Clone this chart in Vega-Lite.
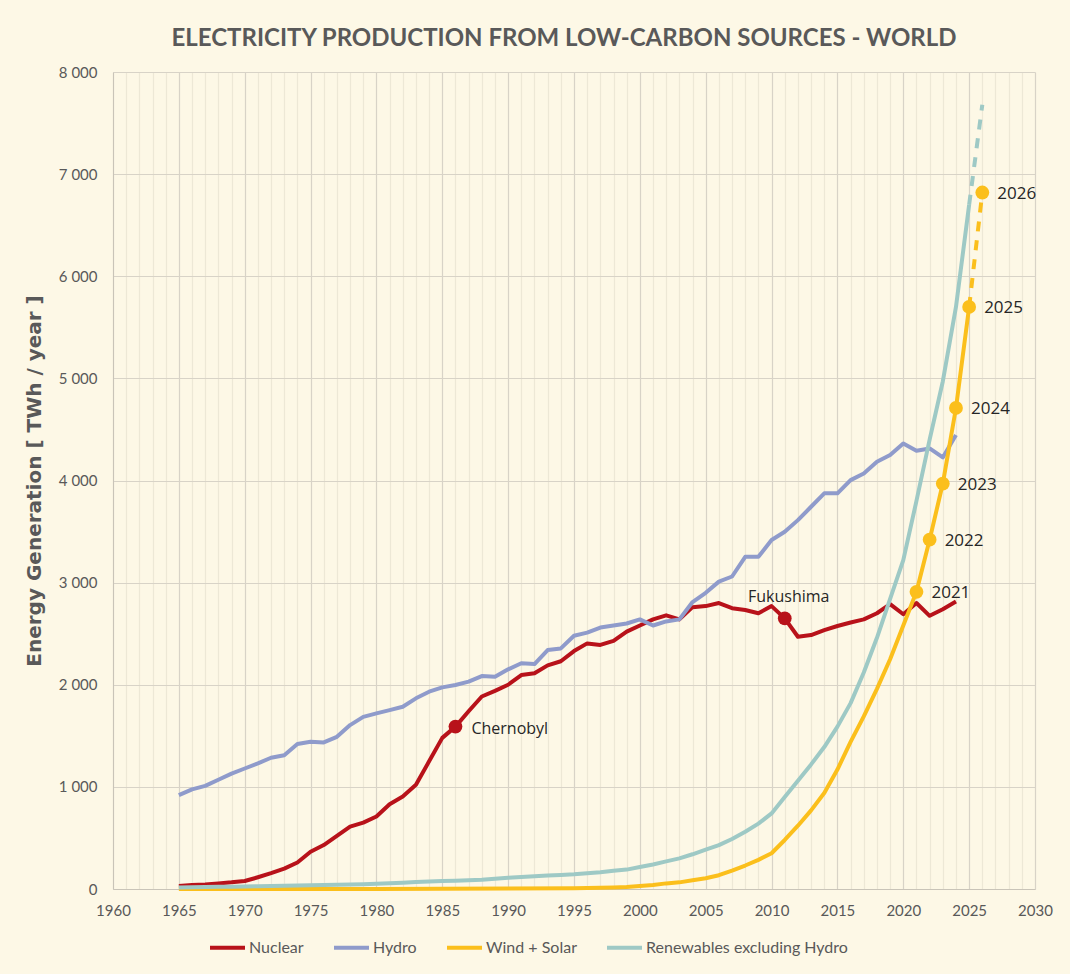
{
  "$schema": "https://vega.github.io/schema/vega-lite/v6.json",
  "width": 922,
  "height": 817,
  "autosize": {"type": "none"},
  "padding": {"left": 113, "top": 72, "right": 35, "bottom": 85},
  "background": "#fdf8e6",
  "config": {
    "view": {"stroke": null},
    "font": "Lato"
  },
  "title": {
    "text": "ELECTRICITY PRODUCTION FROM LOW-CARBON SOURCES - WORLD",
    "font": "Lato",
    "fontSize": 24,
    "fontWeight": "bold",
    "color": "#595959",
    "offset": 14,
    "dx": -10
  },
  "datasets": {
    "series": [
      {"source": "Nuclear", "year": 1965, "value": 30},
      {"source": "Nuclear", "year": 1966, "value": 38},
      {"source": "Nuclear", "year": 1967, "value": 45},
      {"source": "Nuclear", "year": 1968, "value": 55},
      {"source": "Nuclear", "year": 1969, "value": 65},
      {"source": "Nuclear", "year": 1970, "value": 78},
      {"source": "Nuclear", "year": 1971, "value": 115},
      {"source": "Nuclear", "year": 1972, "value": 155},
      {"source": "Nuclear", "year": 1973, "value": 200},
      {"source": "Nuclear", "year": 1974, "value": 260},
      {"source": "Nuclear", "year": 1975, "value": 365},
      {"source": "Nuclear", "year": 1976, "value": 430},
      {"source": "Nuclear", "year": 1977, "value": 520},
      {"source": "Nuclear", "year": 1978, "value": 610},
      {"source": "Nuclear", "year": 1979, "value": 650},
      {"source": "Nuclear", "year": 1980, "value": 710},
      {"source": "Nuclear", "year": 1981, "value": 830},
      {"source": "Nuclear", "year": 1982, "value": 905},
      {"source": "Nuclear", "year": 1983, "value": 1020},
      {"source": "Nuclear", "year": 1984, "value": 1250},
      {"source": "Nuclear", "year": 1985, "value": 1480},
      {"source": "Nuclear", "year": 1986, "value": 1590},
      {"source": "Nuclear", "year": 1987, "value": 1740},
      {"source": "Nuclear", "year": 1988, "value": 1885},
      {"source": "Nuclear", "year": 1989, "value": 1940},
      {"source": "Nuclear", "year": 1990, "value": 2000},
      {"source": "Nuclear", "year": 1991, "value": 2095},
      {"source": "Nuclear", "year": 1992, "value": 2112},
      {"source": "Nuclear", "year": 1993, "value": 2190},
      {"source": "Nuclear", "year": 1994, "value": 2230},
      {"source": "Nuclear", "year": 1995, "value": 2330},
      {"source": "Nuclear", "year": 1996, "value": 2405},
      {"source": "Nuclear", "year": 1997, "value": 2390},
      {"source": "Nuclear", "year": 1998, "value": 2430},
      {"source": "Nuclear", "year": 1999, "value": 2520},
      {"source": "Nuclear", "year": 2000, "value": 2580},
      {"source": "Nuclear", "year": 2001, "value": 2640},
      {"source": "Nuclear", "year": 2002, "value": 2680},
      {"source": "Nuclear", "year": 2003, "value": 2640},
      {"source": "Nuclear", "year": 2004, "value": 2760},
      {"source": "Nuclear", "year": 2005, "value": 2770},
      {"source": "Nuclear", "year": 2006, "value": 2800},
      {"source": "Nuclear", "year": 2007, "value": 2750},
      {"source": "Nuclear", "year": 2008, "value": 2732},
      {"source": "Nuclear", "year": 2009, "value": 2700},
      {"source": "Nuclear", "year": 2010, "value": 2770},
      {"source": "Nuclear", "year": 2011, "value": 2650},
      {"source": "Nuclear", "year": 2012, "value": 2470},
      {"source": "Nuclear", "year": 2013, "value": 2487},
      {"source": "Nuclear", "year": 2014, "value": 2535},
      {"source": "Nuclear", "year": 2015, "value": 2575},
      {"source": "Nuclear", "year": 2016, "value": 2610},
      {"source": "Nuclear", "year": 2017, "value": 2640},
      {"source": "Nuclear", "year": 2018, "value": 2700},
      {"source": "Nuclear", "year": 2019, "value": 2790},
      {"source": "Nuclear", "year": 2020, "value": 2690},
      {"source": "Nuclear", "year": 2021, "value": 2800},
      {"source": "Nuclear", "year": 2022, "value": 2675},
      {"source": "Nuclear", "year": 2023, "value": 2740},
      {"source": "Nuclear", "year": 2024, "value": 2815},
      {"source": "Hydro", "year": 1965, "value": 920},
      {"source": "Hydro", "year": 1966, "value": 976},
      {"source": "Hydro", "year": 1967, "value": 1010},
      {"source": "Hydro", "year": 1968, "value": 1070},
      {"source": "Hydro", "year": 1969, "value": 1130},
      {"source": "Hydro", "year": 1970, "value": 1180},
      {"source": "Hydro", "year": 1971, "value": 1230},
      {"source": "Hydro", "year": 1972, "value": 1285},
      {"source": "Hydro", "year": 1973, "value": 1310},
      {"source": "Hydro", "year": 1974, "value": 1420},
      {"source": "Hydro", "year": 1975, "value": 1442},
      {"source": "Hydro", "year": 1976, "value": 1435},
      {"source": "Hydro", "year": 1977, "value": 1490},
      {"source": "Hydro", "year": 1978, "value": 1605},
      {"source": "Hydro", "year": 1979, "value": 1685},
      {"source": "Hydro", "year": 1980, "value": 1720},
      {"source": "Hydro", "year": 1981, "value": 1752},
      {"source": "Hydro", "year": 1982, "value": 1785},
      {"source": "Hydro", "year": 1983, "value": 1867},
      {"source": "Hydro", "year": 1984, "value": 1932},
      {"source": "Hydro", "year": 1985, "value": 1974},
      {"source": "Hydro", "year": 1986, "value": 1997},
      {"source": "Hydro", "year": 1987, "value": 2030},
      {"source": "Hydro", "year": 1988, "value": 2085},
      {"source": "Hydro", "year": 1989, "value": 2079},
      {"source": "Hydro", "year": 1990, "value": 2151},
      {"source": "Hydro", "year": 1991, "value": 2210},
      {"source": "Hydro", "year": 1992, "value": 2203},
      {"source": "Hydro", "year": 1993, "value": 2340},
      {"source": "Hydro", "year": 1994, "value": 2356},
      {"source": "Hydro", "year": 1995, "value": 2480},
      {"source": "Hydro", "year": 1996, "value": 2510},
      {"source": "Hydro", "year": 1997, "value": 2560},
      {"source": "Hydro", "year": 1998, "value": 2580},
      {"source": "Hydro", "year": 1999, "value": 2600},
      {"source": "Hydro", "year": 2000, "value": 2640},
      {"source": "Hydro", "year": 2001, "value": 2580},
      {"source": "Hydro", "year": 2002, "value": 2620},
      {"source": "Hydro", "year": 2003, "value": 2640},
      {"source": "Hydro", "year": 2004, "value": 2810},
      {"source": "Hydro", "year": 2005, "value": 2900},
      {"source": "Hydro", "year": 2006, "value": 3010},
      {"source": "Hydro", "year": 2007, "value": 3060},
      {"source": "Hydro", "year": 2008, "value": 3253},
      {"source": "Hydro", "year": 2009, "value": 3253},
      {"source": "Hydro", "year": 2010, "value": 3417},
      {"source": "Hydro", "year": 2011, "value": 3498},
      {"source": "Hydro", "year": 2012, "value": 3612},
      {"source": "Hydro", "year": 2013, "value": 3743},
      {"source": "Hydro", "year": 2014, "value": 3874},
      {"source": "Hydro", "year": 2015, "value": 3874},
      {"source": "Hydro", "year": 2016, "value": 4004},
      {"source": "Hydro", "year": 2017, "value": 4069},
      {"source": "Hydro", "year": 2018, "value": 4183},
      {"source": "Hydro", "year": 2019, "value": 4249},
      {"source": "Hydro", "year": 2020, "value": 4363},
      {"source": "Hydro", "year": 2021, "value": 4291},
      {"source": "Hydro", "year": 2022, "value": 4314},
      {"source": "Hydro", "year": 2023, "value": 4226},
      {"source": "Hydro", "year": 2024, "value": 4445},
      {"source": "Wind + Solar", "year": 1965, "value": 0},
      {"source": "Wind + Solar", "year": 1970, "value": 0},
      {"source": "Wind + Solar", "year": 1975, "value": 0},
      {"source": "Wind + Solar", "year": 1980, "value": 0},
      {"source": "Wind + Solar", "year": 1985, "value": 3},
      {"source": "Wind + Solar", "year": 1990, "value": 4},
      {"source": "Wind + Solar", "year": 1995, "value": 8},
      {"source": "Wind + Solar", "year": 1996, "value": 10},
      {"source": "Wind + Solar", "year": 1997, "value": 12},
      {"source": "Wind + Solar", "year": 1998, "value": 15},
      {"source": "Wind + Solar", "year": 1999, "value": 20},
      {"source": "Wind + Solar", "year": 2000, "value": 30},
      {"source": "Wind + Solar", "year": 2001, "value": 40},
      {"source": "Wind + Solar", "year": 2002, "value": 55},
      {"source": "Wind + Solar", "year": 2003, "value": 65},
      {"source": "Wind + Solar", "year": 2004, "value": 85},
      {"source": "Wind + Solar", "year": 2005, "value": 105},
      {"source": "Wind + Solar", "year": 2006, "value": 135},
      {"source": "Wind + Solar", "year": 2007, "value": 180},
      {"source": "Wind + Solar", "year": 2008, "value": 230},
      {"source": "Wind + Solar", "year": 2009, "value": 285},
      {"source": "Wind + Solar", "year": 2010, "value": 350},
      {"source": "Wind + Solar", "year": 2011, "value": 480},
      {"source": "Wind + Solar", "year": 2012, "value": 620},
      {"source": "Wind + Solar", "year": 2013, "value": 770},
      {"source": "Wind + Solar", "year": 2014, "value": 940},
      {"source": "Wind + Solar", "year": 2015, "value": 1170},
      {"source": "Wind + Solar", "year": 2016, "value": 1440},
      {"source": "Wind + Solar", "year": 2017, "value": 1690},
      {"source": "Wind + Solar", "year": 2018, "value": 1960},
      {"source": "Wind + Solar", "year": 2019, "value": 2250},
      {"source": "Wind + Solar", "year": 2020, "value": 2580},
      {"source": "Wind + Solar", "year": 2021, "value": 2910},
      {"source": "Wind + Solar", "year": 2022, "value": 3420},
      {"source": "Wind + Solar", "year": 2023, "value": 3970},
      {"source": "Wind + Solar", "year": 2024, "value": 4710},
      {"source": "Wind + Solar", "year": 2025, "value": 5700},
      {"source": "Wind + Solar", "year": 2026, "value": 6820, "proj": true},
      {"source": "Renewables excluding Hydro", "year": 1965, "value": 15},
      {"source": "Renewables excluding Hydro", "year": 1966, "value": 17},
      {"source": "Renewables excluding Hydro", "year": 1967, "value": 19},
      {"source": "Renewables excluding Hydro", "year": 1968, "value": 21},
      {"source": "Renewables excluding Hydro", "year": 1969, "value": 23},
      {"source": "Renewables excluding Hydro", "year": 1970, "value": 25},
      {"source": "Renewables excluding Hydro", "year": 1971, "value": 27},
      {"source": "Renewables excluding Hydro", "year": 1972, "value": 29},
      {"source": "Renewables excluding Hydro", "year": 1973, "value": 31},
      {"source": "Renewables excluding Hydro", "year": 1974, "value": 34},
      {"source": "Renewables excluding Hydro", "year": 1975, "value": 36},
      {"source": "Renewables excluding Hydro", "year": 1976, "value": 38},
      {"source": "Renewables excluding Hydro", "year": 1977, "value": 41},
      {"source": "Renewables excluding Hydro", "year": 1978, "value": 44},
      {"source": "Renewables excluding Hydro", "year": 1979, "value": 47},
      {"source": "Renewables excluding Hydro", "year": 1980, "value": 52},
      {"source": "Renewables excluding Hydro", "year": 1981, "value": 56},
      {"source": "Renewables excluding Hydro", "year": 1982, "value": 62},
      {"source": "Renewables excluding Hydro", "year": 1983, "value": 68},
      {"source": "Renewables excluding Hydro", "year": 1984, "value": 74},
      {"source": "Renewables excluding Hydro", "year": 1985, "value": 78},
      {"source": "Renewables excluding Hydro", "year": 1986, "value": 82},
      {"source": "Renewables excluding Hydro", "year": 1987, "value": 86},
      {"source": "Renewables excluding Hydro", "year": 1988, "value": 90},
      {"source": "Renewables excluding Hydro", "year": 1989, "value": 100},
      {"source": "Renewables excluding Hydro", "year": 1990, "value": 110},
      {"source": "Renewables excluding Hydro", "year": 1991, "value": 118},
      {"source": "Renewables excluding Hydro", "year": 1992, "value": 125},
      {"source": "Renewables excluding Hydro", "year": 1993, "value": 132},
      {"source": "Renewables excluding Hydro", "year": 1994, "value": 138},
      {"source": "Renewables excluding Hydro", "year": 1995, "value": 145},
      {"source": "Renewables excluding Hydro", "year": 1996, "value": 155},
      {"source": "Renewables excluding Hydro", "year": 1997, "value": 165},
      {"source": "Renewables excluding Hydro", "year": 1998, "value": 178},
      {"source": "Renewables excluding Hydro", "year": 1999, "value": 190},
      {"source": "Renewables excluding Hydro", "year": 2000, "value": 215},
      {"source": "Renewables excluding Hydro", "year": 2001, "value": 240},
      {"source": "Renewables excluding Hydro", "year": 2002, "value": 270},
      {"source": "Renewables excluding Hydro", "year": 2003, "value": 300},
      {"source": "Renewables excluding Hydro", "year": 2004, "value": 340},
      {"source": "Renewables excluding Hydro", "year": 2005, "value": 385},
      {"source": "Renewables excluding Hydro", "year": 2006, "value": 430},
      {"source": "Renewables excluding Hydro", "year": 2007, "value": 490},
      {"source": "Renewables excluding Hydro", "year": 2008, "value": 560},
      {"source": "Renewables excluding Hydro", "year": 2009, "value": 640},
      {"source": "Renewables excluding Hydro", "year": 2010, "value": 740},
      {"source": "Renewables excluding Hydro", "year": 2011, "value": 900},
      {"source": "Renewables excluding Hydro", "year": 2012, "value": 1060},
      {"source": "Renewables excluding Hydro", "year": 2013, "value": 1220},
      {"source": "Renewables excluding Hydro", "year": 2014, "value": 1390},
      {"source": "Renewables excluding Hydro", "year": 2015, "value": 1590},
      {"source": "Renewables excluding Hydro", "year": 2016, "value": 1820},
      {"source": "Renewables excluding Hydro", "year": 2017, "value": 2120},
      {"source": "Renewables excluding Hydro", "year": 2018, "value": 2460},
      {"source": "Renewables excluding Hydro", "year": 2019, "value": 2840},
      {"source": "Renewables excluding Hydro", "year": 2020, "value": 3220},
      {"source": "Renewables excluding Hydro", "year": 2021, "value": 3800},
      {"source": "Renewables excluding Hydro", "year": 2022, "value": 4400},
      {"source": "Renewables excluding Hydro", "year": 2023, "value": 4970},
      {"source": "Renewables excluding Hydro", "year": 2024, "value": 5700},
      {"source": "Renewables excluding Hydro", "year": 2025, "value": 6700},
      {"source": "Renewables excluding Hydro", "year": 2026, "value": 7680, "proj": true}
    ],
    "events": [
      {"event": "Chernobyl", "year": 1986, "value": 1590},
      {"event": "Fukushima", "year": 2011, "value": 2650}
    ]
  },
  "encoding": {
    "x": {
      "field": "year",
      "type": "quantitative",
      "scale": {"domain": [1960, 2030], "nice": false, "zero": false},
      "axis": {
        "title": null,
        "values": [1960, 1961, 1962, 1963, 1964, 1965, 1966, 1967, 1968, 1969, 1970, 1971, 1972, 1973, 1974, 1975, 1976, 1977, 1978, 1979, 1980, 1981, 1982, 1983, 1984, 1985, 1986, 1987, 1988, 1989, 1990, 1991, 1992, 1993, 1994, 1995, 1996, 1997, 1998, 1999, 2000, 2001, 2002, 2003, 2004, 2005, 2006, 2007, 2008, 2009, 2010, 2011, 2012, 2013, 2014, 2015, 2016, 2017, 2018, 2019, 2020, 2021, 2022, 2023, 2024, 2025, 2026, 2027, 2028, 2029, 2030],
        "labelExpr": "datum.value % 5 === 0 ? '' + datum.value : ''",
        "labelOverlap": false,
        "labelFlush": false,
        "labelFontSize": 15,
        "labelColor": "#595959",
        "labelPadding": 14,
        "ticks": false,
        "domainColor": "#c9c4b8",
        "gridColor": {
          "condition": {"test": "datum.value % 5 === 0", "value": "#d8d3c7"},
          "value": "#ede8d6"
        },
        "gridWidth": 1.2
      }
    },
    "y": {
      "field": "value",
      "type": "quantitative",
      "scale": {"domain": [0, 8000], "nice": false},
      "axis": {
        "title": "Energy Generation  [ TWh / year ]",
        "titleFont": "DejaVu Sans",
        "titleFontSize": 20,
        "titleFontWeight": "bold",
        "titleColor": "#595959",
        "titlePadding": 14,
        "values": [0, 1000, 2000, 3000, 4000, 5000, 6000, 7000, 8000],
        "labelExpr": "replace(format(datum.value, ','), ',', ' ')",
        "labelFontSize": 15,
        "labelColor": "#595959",
        "labelPadding": 16,
        "ticks": false,
        "domainColor": "#c9c4b8",
        "gridColor": "#d8d3c7",
        "gridWidth": 1.2
      }
    }
  },
  "layer": [
    {
      "data": {"name": "series"},
      "transform": [{"filter": "!datum.proj"}],
      "mark": {"type": "line", "strokeWidth": 4, "strokeJoin": "round"},
      "encoding": {
        "color": {
          "field": "source",
          "type": "nominal",
          "scale": {
            "domain": ["Nuclear", "Hydro", "Wind + Solar", "Renewables excluding Hydro"],
            "range": ["#b8121a", "#8f9bcb", "#fbbf1c", "#9ec9c5"]
          },
          "legend": {
            "title": null,
            "orient": "none",
            "legendX": 95,
            "legendY": 856,
            "direction": "horizontal",
            "symbolType": "stroke",
            "symbolSize": 1225,
            "symbolStrokeWidth": 4,
            "labelFontSize": 16,
            "labelLimit": 400,
            "labelColor": "#595959",
            "labelOffset": 2,
            "columnPadding": 22
          }
        }
      }
    },
    {
      "data": {"name": "series"},
      "transform": [{"filter": "datum.year >= 2025"}],
      "mark": {"type": "line", "strokeWidth": 4, "strokeDash": [10, 9]},
      "encoding": {
        "color": {"field": "source", "type": "nominal"}
      }
    },
    {
      "data": {"name": "series"},
      "transform": [{"filter": "datum.source === 'Wind + Solar' && datum.year >= 2021"}],
      "mark": {"type": "circle", "size": 190, "opacity": 1, "color": "#fbbf1c"}
    },
    {
      "data": {"name": "series"},
      "transform": [{"filter": "datum.source === 'Wind + Solar' && datum.year >= 2021"}],
      "mark": {"type": "text", "align": "left", "baseline": "middle", "dx": 15, "dy": 1, "font": "Open Sans", "fontSize": 17, "color": "#262626"},
      "encoding": {"text": {"field": "year", "type": "nominal"}}
    },
    {
      "data": {"name": "events"},
      "mark": {"type": "circle", "size": 190, "opacity": 1, "color": "#b8121a"}
    },
    {
      "data": {"name": "events"},
      "transform": [{"filter": "datum.event === 'Chernobyl'"}],
      "mark": {"type": "text", "align": "left", "baseline": "middle", "dx": 16, "dy": 2, "font": "Open Sans", "fontSize": 16, "color": "#262626"},
      "encoding": {"text": {"field": "event"}}
    },
    {
      "data": {"name": "events"},
      "transform": [{"filter": "datum.event === 'Fukushima'"}],
      "mark": {"type": "text", "align": "center", "baseline": "middle", "dx": 4, "dy": -21, "font": "Open Sans", "fontSize": 16, "color": "#262626"},
      "encoding": {"text": {"field": "event"}}
    }
  ]
}
